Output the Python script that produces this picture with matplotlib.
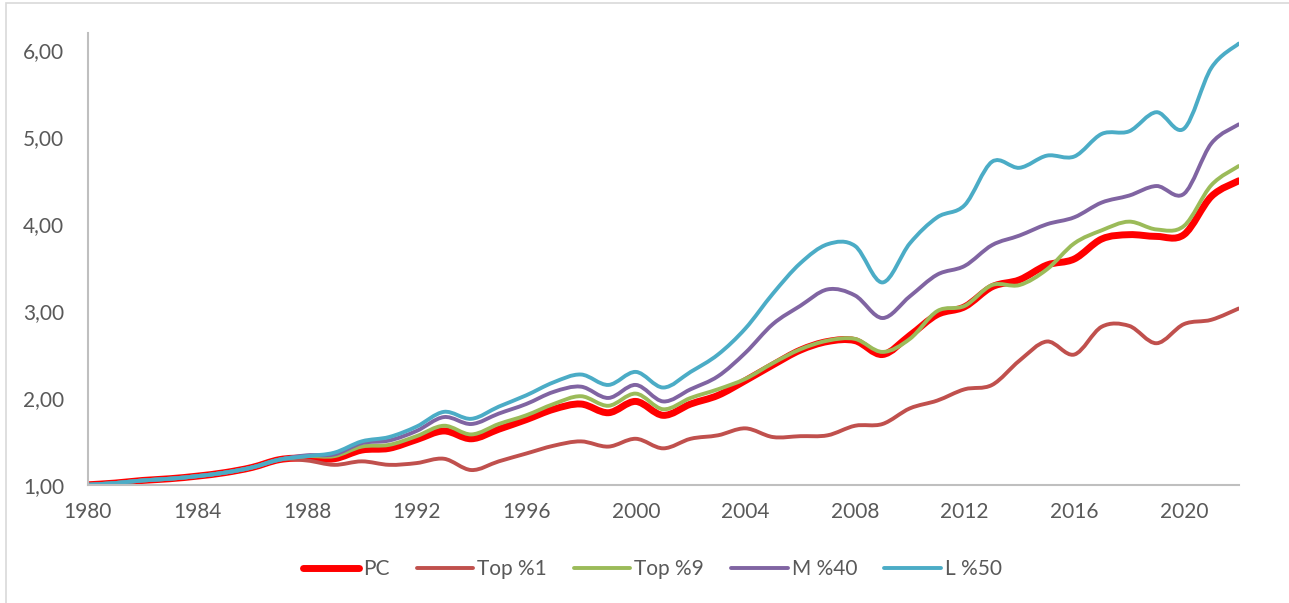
import matplotlib
matplotlib.use("Agg")
import matplotlib.pyplot as plt
from matplotlib.path import Path
from matplotlib.patches import PathPatch, Rectangle
from matplotlib.lines import Line2D

years = list(range(1980, 2023))

pc = [1.00, 1.02, 1.05, 1.07, 1.10, 1.14, 1.20, 1.29, 1.31, 1.30,
      1.40, 1.42, 1.52, 1.62, 1.53, 1.64, 1.75, 1.87, 1.93, 1.83,
      1.96, 1.80, 1.93, 2.03, 2.20, 2.38, 2.55, 2.65, 2.66, 2.50,
      2.72, 2.96, 3.05, 3.28, 3.36, 3.53, 3.60, 3.83, 3.88, 3.86,
      3.88, 4.32, 4.50]
top1 = [1.00, 1.02, 1.05, 1.07, 1.10, 1.14, 1.20, 1.29, 1.28, 1.23,
        1.27, 1.23, 1.25, 1.30, 1.17, 1.27, 1.36, 1.45, 1.50, 1.44,
        1.53, 1.42, 1.53, 1.57, 1.65, 1.55, 1.56, 1.57, 1.68, 1.70,
        1.88, 1.97, 2.10, 2.15, 2.43, 2.65, 2.50, 2.82, 2.83, 2.63,
        2.85, 2.90, 3.03]
top9 = [1.00, 1.02, 1.05, 1.07, 1.10, 1.14, 1.20, 1.29, 1.33, 1.33,
        1.44, 1.46, 1.56, 1.68, 1.58, 1.70, 1.80, 1.93, 2.02, 1.91,
        2.05, 1.87, 2.00, 2.10, 2.22, 2.40, 2.56, 2.66, 2.68, 2.53,
        2.68, 3.00, 3.06, 3.30, 3.30, 3.48, 3.78, 3.93, 4.03, 3.94,
        3.98, 4.45, 4.67]
m40 = [1.00, 1.02, 1.05, 1.07, 1.10, 1.14, 1.20, 1.29, 1.34, 1.35,
       1.48, 1.51, 1.62, 1.78, 1.70, 1.82, 1.93, 2.07, 2.13, 2.00,
       2.15, 1.96, 2.10, 2.25, 2.52, 2.85, 3.06, 3.25, 3.18, 2.92,
       3.17, 3.42, 3.52, 3.76, 3.87, 4.00, 4.08, 4.25, 4.33, 4.44,
       4.35, 4.93, 5.15]
l50 = [1.00, 1.02, 1.05, 1.07, 1.10, 1.14, 1.20, 1.29, 1.33, 1.37,
       1.50, 1.55, 1.67, 1.84, 1.76, 1.90, 2.03, 2.18, 2.27, 2.15,
       2.30, 2.12, 2.30, 2.50, 2.80, 3.20, 3.55, 3.77, 3.75, 3.33,
       3.78, 4.08, 4.22, 4.72, 4.65, 4.79, 4.78, 5.04, 5.07, 5.29,
       5.10, 5.80, 6.08]

labels = ["PC", "Top %1", "Top %9", "M %40", "L %50"]
series = [pc, top1, top9, m40, l50]
colors = ["#FF0000", "#C0504D", "#9BBB59", "#8064A2", "#4BACC6"]
widths = [5.0, 2.8, 2.8, 2.8, 2.8]


def smooth_path(x, y):
    # Excel-style smoothed line: cubic bezier segments through every point
    verts = [(x[0], y[0])]
    codes = [Path.MOVETO]
    n = len(x)
    for i in range(n - 1):
        x0, y0 = (x[i - 1], y[i - 1]) if i > 0 else (x[i], y[i])
        x3, y3 = (x[i + 2], y[i + 2]) if i + 2 < n else (x[i + 1], y[i + 1])
        c1 = (x[i] + (x[i + 1] - x0) / 6, y[i] + (y[i + 1] - y0) / 6)
        c2 = (x[i + 1] - (x3 - x[i]) / 6, y[i + 1] - (y3 - y[i]) / 6)
        verts += [c1, c2, (x[i + 1], y[i + 1])]
        codes += [Path.CURVE4] * 3
    return Path(verts, codes)


plt.rcParams["font.family"] = ["Lato", "DejaVu Sans"]
fig = plt.figure(figsize=(12.89, 6.03), dpi=100)
ax = fig.add_axes([0.068, 0.196, 0.893, 0.749])

for vals, col, lw in zip(series, colors, widths):
    ax.add_patch(PathPatch(smooth_path(years, vals), fill=False, edgecolor=col,
                           linewidth=lw, capstyle="round", joinstyle="round"))

ax.set_xlim(1980, 2022)
ax.set_ylim(1, 6.2)
ax.set_xticks(range(1980, 2021, 4))
ax.set_yticks([1, 2, 3, 4, 5, 6])
ax.set_yticklabels([f"{v:.2f}".replace(".", ",") for v in [1, 2, 3, 4, 5, 6]])
ax.tick_params(length=0, labelsize=15, colors="#595959")
ax.tick_params(axis="y", pad=17)
ax.tick_params(axis="x", pad=12.5)
for s in ["top", "right"]:
    ax.spines[s].set_visible(False)
for s in ["left", "bottom"]:
    ax.spines[s].set_color("#BFBFBF")
    ax.spines[s].set_linewidth(1.5)

handles = [Line2D([], [], color=c, lw=lw, solid_capstyle="round")
           for c, lw in zip(colors, widths)]
fig.legend(handles, labels, loc="center", bbox_to_anchor=(0.506, 0.056), ncol=5,
           frameon=False, fontsize=15, handlelength=2.7, handletextpad=0.2,
           columnspacing=1.3, labelcolor="#595959")

fig.add_artist(Rectangle((0.005, -0.01), 1.2, 1.005, transform=fig.transFigure,
                         fill=False, edgecolor="#D9D9D9", linewidth=1.2))

fig.savefig("out.png", dpi=100)
